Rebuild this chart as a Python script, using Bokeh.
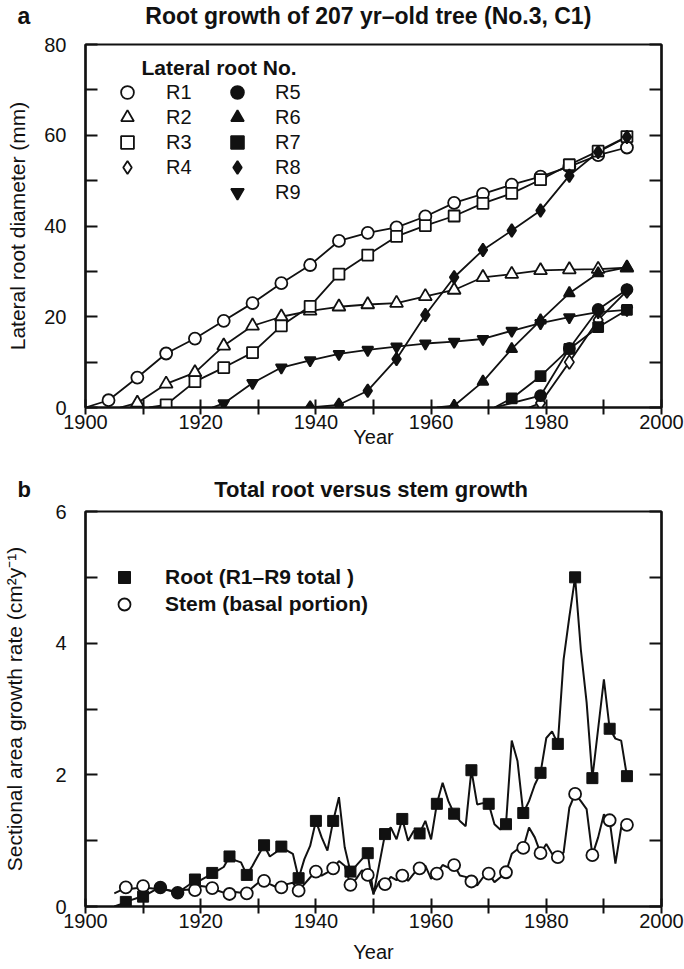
from bokeh.plotting import figure
from bokeh.layouts import column
from bokeh.models import FixedTicker, LinearAxis, Range1d, Label, Legend, LegendItem, Title
from bokeh.embed import file_html
from bokeh.resources import INLINE

FONT = "Liberation Sans"
INK = "#111111"
NBSP = "\u00a0"

# ---------------- Panel a data: lateral root diameter (mm) ----------------
r1_years = [1904, 1909, 1914, 1919, 1924, 1929, 1934, 1939, 1944, 1949, 1954, 1959, 1964, 1969, 1974, 1979, 1984, 1989, 1994]
r1_vals = [1.6, 6.6, 11.9, 15.2, 19.1, 23.0, 27.4, 31.4, 36.7, 38.5, 39.7, 42.1, 45.1, 47.1, 49.1, 50.9, 53.1, 55.6, 57.3]
r2_years = [1909, 1914, 1919, 1924, 1929, 1934, 1939, 1944, 1949, 1954, 1959, 1964, 1969, 1974, 1979, 1984, 1989, 1994]
r2_vals = [1.0, 5.2, 7.7, 13.6, 18.0, 20.0, 21.3, 22.2, 22.7, 23.0, 24.5, 25.9, 28.7, 29.4, 30.2, 30.4, 30.5, 30.8]
r3_years = [1914, 1919, 1924, 1929, 1934, 1939, 1944, 1949, 1954, 1959, 1964, 1969, 1974, 1979, 1984, 1989, 1994]
r3_vals = [0.6, 5.7, 8.8, 12.1, 18.0, 22.3, 29.4, 33.6, 37.7, 40.1, 42.2, 45.0, 47.2, 50.2, 53.5, 56.5, 59.7]
r4_years = [1979, 1984, 1989, 1994]
r4_vals = [1.0, 10.0, 19.3, 25.7]
r5_years = [1979, 1984, 1989, 1994]
r5_vals = [2.6, 13.0, 21.6, 26.0]
r6_years = [1964, 1969, 1974, 1979, 1984, 1989, 1994]
r6_vals = [0.4, 5.7, 12.9, 19.2, 25.2, 29.6, 30.9]
r7_years = [1974, 1979, 1984, 1989, 1994]
r7_vals = [2.0, 6.9, 12.9, 17.7, 21.5]
r8_years = [1939, 1944, 1949, 1954, 1959, 1964, 1969, 1974, 1979, 1984, 1989, 1994]
r8_vals = [0.0, 0.6, 3.7, 10.7, 20.4, 28.7, 34.7, 39.0, 43.4, 51.1, 56.3, 59.6]
r9_years = [1924, 1929, 1934, 1939, 1944, 1949, 1954, 1959, 1964, 1969, 1974, 1979, 1984, 1989, 1994]
r9_vals = [0.9, 5.4, 8.8, 10.4, 11.8, 12.7, 13.4, 14.1, 14.5, 15.1, 16.9, 18.6, 19.9, 21.0, 21.5]
# year at which each curve leaves zero (None: first marker already at zero)
line_start = {"R1": 1900, "R2": 1906, "R3": 1911, "R4": 1977, "R5": 1971,
              "R6": 1961, "R7": 1971, "R8": None, "R9": 1922}

# ---------------- Panel b data: sectional area growth rate ----------------
annual_years = list(range(1905, 1995))
root_total = [0.00, 0.03, 0.07, 0.10, 0.13, 0.15, 0.20, 0.25, 0.29, 0.26,
              0.23, 0.21, 0.27, 0.33, 0.41, 0.40, 0.45, 0.51, 0.55, 0.60,
              0.76, 0.70, 0.67, 0.48, 0.62, 0.78, 0.93, 0.76, 0.82, 0.91,
              0.85, 0.80, 0.43, 0.72, 0.92, 1.30, 1.05, 0.85, 1.30, 1.66,
              0.90, 0.53, 0.62, 0.72, 0.81, 0.18, 0.64, 1.10, 1.20, 1.02,
              1.33, 1.00, 1.15, 1.11, 1.30, 1.02, 1.56, 1.88, 1.60, 1.41,
              1.30, 1.22, 2.07, 1.55, 1.57, 1.56, 1.25, 1.17, 1.25, 2.52,
              2.21, 1.42, 1.60, 1.85, 2.03, 2.56, 2.66, 2.47, 3.75, 4.40,
              5.00, 3.90, 3.10, 1.95, 2.70, 3.45, 2.70, 2.55, 2.52, 1.98]
stem_basal = [0.20, 0.24, 0.29, 0.27, 0.28, 0.31, 0.28, 0.27, 0.29, 0.25,
              0.24, 0.21, 0.25, 0.26, 0.25, 0.31, 0.30, 0.28, 0.24, 0.21,
              0.19, 0.22, 0.21, 0.20, 0.29, 0.36, 0.39, 0.34, 0.30, 0.29,
              0.34, 0.36, 0.24, 0.34, 0.44, 0.53, 0.47, 0.52, 0.58, 0.69,
              0.62, 0.33, 0.42, 0.55, 0.48, 0.20, 0.38, 0.34, 0.45, 0.40,
              0.47, 0.39, 0.50, 0.58, 0.62, 0.42, 0.50, 0.63, 0.59, 0.63,
              0.47, 0.45, 0.38, 0.32, 0.44, 0.50, 0.37, 0.44, 0.52, 0.80,
              0.87, 0.89, 1.20, 1.05, 0.81, 0.95, 0.80, 0.75, 0.82, 1.50,
              1.71, 1.60, 1.48, 0.78, 1.05, 1.40, 1.31, 0.65, 1.20, 1.24]
marker_years = list(range(1907, 1995, 3))
overlap_years = [1913, 1916]   # root and stem markers coincide (drawn as filled circles)

x_ticks = [1900, 1920, 1940, 1960, 1980, 2000]
x_minor = [1910, 1930, 1950, 1970, 1990]
ya_ticks = [0, 20, 40, 60, 80]
ya_minor = [10, 30, 50, 70]
yb_ticks = [0, 2, 4, 6]
yb_minor = [1, 3, 5]


def base_fig(height, ymax, top, shift, yticks, yminor, ylabel, ylabel_standoff, xlabel_standoff):
    p = figure(width=684, height=height, x_range=Range1d(1900, 2000), y_range=Range1d(0, ymax),
               output_backend="svg", toolbar_location=None,
               min_border_left=83, min_border_right=23, min_border_top=top, min_border_bottom=63,
               background_fill_color="white", border_fill_color="white",
               margin=(-shift, 0, 0, 0))
    p.grid.visible = False
    p.outline_line_color = INK
    p.outline_line_width = 2.2
    xa = p.xaxis[0]
    xa.ticker = FixedTicker(ticks=x_ticks, minor_ticks=x_minor)
    xa.axis_line_width = 2.2
    xa.axis_line_color = INK
    xa.major_tick_line_width = 2
    xa.minor_tick_line_width = 2
    xa.major_tick_line_color = INK
    xa.minor_tick_line_color = INK
    xa.major_tick_in = 8
    xa.major_tick_out = 7
    xa.minor_tick_in = 8
    xa.minor_tick_out = 7
    xa.major_label_text_font = FONT
    xa.major_label_text_font_size = "20px"
    xa.major_label_text_color = INK
    xa.major_label_standoff = 0
    xa.axis_label = "Year"
    xa.axis_label_text_font = FONT
    xa.axis_label_text_font_size = "20px"
    xa.axis_label_text_font_style = "normal"
    xa.axis_label_text_color = INK
    xa.axis_label_standoff = xlabel_standoff

    ya = p.yaxis[0]
    ya.ticker = FixedTicker(ticks=yticks, minor_ticks=yminor)
    ya.axis_line_width = 2.2
    ya.axis_line_color = INK
    ya.major_tick_line_width = 2
    ya.minor_tick_line_width = 2
    ya.major_tick_line_color = INK
    ya.minor_tick_line_color = INK
    ya.major_tick_in = 12
    ya.major_tick_out = 0
    ya.minor_tick_in = 12
    ya.minor_tick_out = 0
    ya.major_label_text_font = FONT
    ya.major_label_text_font_size = "20px"
    ya.major_label_text_color = INK
    ya.major_label_standoff = 19
    ya.axis_label = ylabel
    ya.axis_label_text_font = FONT
    ya.axis_label_text_font_size = "21px"
    ya.axis_label_text_font_style = "normal"
    ya.axis_label_text_color = INK
    ya.axis_label_standoff = ylabel_standoff

    ra = LinearAxis(ticker=FixedTicker(ticks=yticks, minor_ticks=yminor),
                    major_label_overrides={t: "" for t in yticks},
                    major_label_text_font_size="1px",
                    axis_line_width=2.2, axis_line_color=INK,
                    major_tick_line_width=2, minor_tick_line_width=2,
                    major_tick_line_color=INK, minor_tick_line_color=INK,
                    major_tick_in=12, major_tick_out=0, minor_tick_in=12, minor_tick_out=0,
                    major_label_standoff=0)
    p.add_layout(ra, "right")
    return p


def add_head(p, letter, gap, title, size, standoff):
    # panel letter and heading share one line (separated by no-break spaces)
    p.add_layout(Title(text=letter + NBSP * gap + title, align="left", offset=-68,
                       text_font=FONT, text_font_size=size, text_font_style="bold",
                       text_color=INK, standoff=standoff), "above")


def row_legend(p, item, frame_h, cx, c, label_x, glyph, bold=False, size="20px"):
    # one legend entry: marker centred at (cx, c) px from the frame's top-left corner,
    # label starting label_x px from the frame's left edge
    half = glyph / 2
    x0 = cx - half
    p.add_layout(Legend(items=[item], location=(x0, frame_h - c - half), orientation="vertical",
                        padding=0, margin=0, spacing=0,
                        glyph_width=glyph, glyph_height=glyph, label_height=20,
                        label_standoff=int(round(label_x - x0 - glyph)),
                        label_text_font=FONT, label_text_font_size=size,
                        label_text_font_style="bold" if bold else "normal", label_text_color=INK,
                        border_line_color=None, background_fill_alpha=0))


# ---------------- Panel a ----------------
SHIFT_A = 16
pa = base_fig(470 + SHIFT_A, 80, 44 + SHIFT_A, SHIFT_A, ya_ticks, ya_minor,
              "Lateral root diameter (mm)", 12, -6)
FRAME_A = 363
add_head(pa, "a", 18, "Root growth of 207 yr\u2013old tree (No.3, C1)", "23px", 32)

series_a = [
    ("R1", r1_years, r1_vals, "circle", False, 12),
    ("R2", r2_years, r2_vals, "triangle", False, 13),
    ("R3", r3_years, r3_vals, "square", False, 11),
    ("R4", r4_years, r4_vals, "diamond", False, 14),
    ("R5", r5_years, r5_vals, "circle", True, 11),
    ("R6", r6_years, r6_vals, "triangle", True, 11),
    ("R7", r7_years, r7_vals, "square", True, 10),
    ("R8", r8_years, r8_vals, "diamond", True, 13),
    ("R9", r9_years, r9_vals, "inverted_triangle", True, 11),
]

for name, yrs, vals, mk, filled, sz in series_a:
    xs = list(yrs)
    ys = list(vals)
    if line_start[name] is not None:
        xs = [line_start[name]] + xs
        ys = [0.0] + ys
    pa.line(xs, ys, line_color=INK, line_width=1.8)

open_rows, filled_rows = 0, 0
for name, yrs, vals, mk, filled, sz in series_a:
    r = pa.scatter(yrs, vals, marker=mk, size=sz, line_color=INK, line_width=1.8,
                   fill_color=INK if filled else "white")
    item = LegendItem(label=name, renderers=[r])
    if filled:
        row_legend(pa, item, FRAME_A, 152, 48 + 25 * filled_rows, 190, 32)
        filled_rows += 1
    else:
        row_legend(pa, item, FRAME_A, 42, 48 + 25 * open_rows, 81, 32)
        open_rows += 1

pa.add_layout(Label(x=56, y=FRAME_A - 23, x_units="screen", y_units="screen", text="Lateral root No.",
                    text_font=FONT, text_font_size="21px", text_font_style="bold",
                    text_color=INK, text_baseline="middle", text_align="left"))

# ---------------- Panel b ----------------
SHIFT_B = 6
pb = base_fig(499 + SHIFT_B, 6, 41 + SHIFT_B, SHIFT_B, yb_ticks, yb_minor,
              "Sectional area growth rate (cm\u00b2y\u207b\u00b9)", 26, 10)
FRAME_B = 395
add_head(pb, "b", 30, "Total root versus stem growth", "22px", 20)

pb.line(annual_years, root_total, line_color=INK, line_width=2)
pb.line(annual_years, stem_basal, line_color=INK, line_width=2)

root_m = [(y, root_total[y - 1905]) for y in marker_years if y not in overlap_years]
stem_m = [(y, stem_basal[y - 1905]) for y in marker_years if y not in overlap_years]
over_m = [(y, root_total[y - 1905]) for y in overlap_years]

rs = pb.scatter([a for a, b in stem_m], [b for a, b in stem_m], marker="circle", size=12,
                line_color=INK, line_width=1.8, fill_color="white")
rr = pb.scatter([a for a, b in root_m], [b for a, b in root_m], marker="square", size=11,
                line_color=INK, line_width=1, fill_color=INK)
pb.scatter([a for a, b in over_m], [b for a, b in over_m], marker="circle", size=12,
           line_color=INK, line_width=1.5, fill_color=INK)

row_legend(pb, LegendItem(label="Root (R1\u2013R9 total )", renderers=[rr]), FRAME_B, 39, 66, 80, 30,
           bold=True, size="21px")
row_legend(pb, LegendItem(label="Stem (basal portion)", renderers=[rs]), FRAME_B, 39, 93, 80, 30,
           bold=True, size="21px")

layout = column(pa, pb, spacing=0)
open("out.html", "w").write(file_html(layout, INLINE))
